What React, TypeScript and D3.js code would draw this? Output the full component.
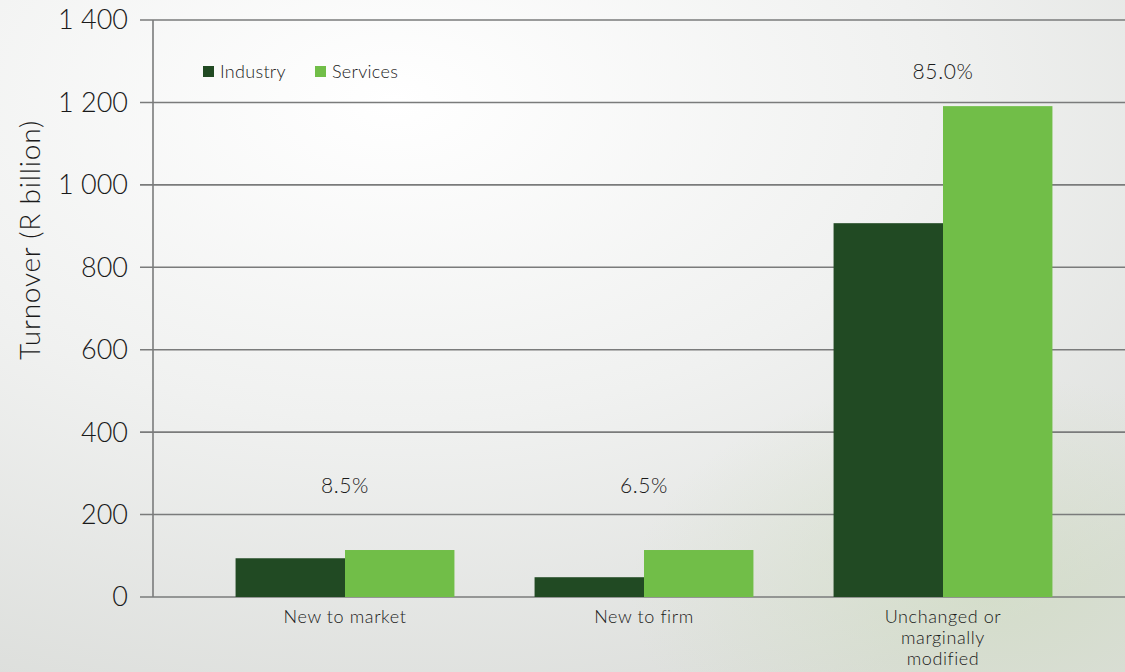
import React from "react";
import * as d3 from "d3";

const categories = ["New to market", "New to firm", "Unchanged or marginally modified"];
const categoryLines = [["New to market"], ["New to firm"], ["Unchanged or", "marginally", "modified"]];
const series = ["Industry", "Services"];
const industry = [94, 48, 907];
const services = [114, 114, 1191];
const shareLabels = ["8.5%", "6.5%", "85.0%"];
const shareLabelValues = [269, 269, 1274];
const yTicks = [0, 200, 400, 600, 800, 1000, 1200, 1400];
const colors = ["#214a23", "#71be48"];

const W = 1125;
const H = 672;
const FONT = "Lato, 'Open Sans', sans-serif";

export default function App() {
  const y = d3.scaleLinear().domain([0, 1400]).range([597, 20]);
  const x = d3
    .scaleBand<string>()
    .domain(categories)
    .range([195.5, 1092.5])
    .paddingInner(0.268)
    .paddingOuter(0.134);
  const xs = d3.scaleBand<string>().domain(series).range([0, x.bandwidth()]);
  const fmt = (v: number) => d3.format(",")(v).replace(/,/g, " ");
  const values = [industry, services];

  return (
    <svg
      width={W}
      height={H}
      style={{ position: "absolute", left: 0, top: 0, display: "block" }}
      fontFamily={FONT}
    >
      <defs>
        <radialGradient id="bg" cx="0.35" cy="0.15" r="0.95">
          <stop offset="0" stopColor="#ffffff" />
          <stop offset="0.5" stopColor="#f0f1f0" />
          <stop offset="1" stopColor="#dcdedb" />
        </radialGradient>
        <radialGradient id="glow" cx="0.88" cy="0.88" r="0.32">
          <stop offset="0" stopColor="#cddcbc" stopOpacity="0.55" />
          <stop offset="1" stopColor="#cddcbc" stopOpacity="0" />
        </radialGradient>
      </defs>
      <rect width={W} height={H} fill="url(#bg)" />
      <rect width={W} height={H} fill="url(#glow)" />

      {yTicks.map((t) => (
        <g key={t}>
          <line x1={140} x2={W} y1={y(t)} y2={y(t)} stroke="#7a7b7b" strokeWidth={1.6} />
          <text
            x={128}
            y={y(t)}
            dy="0.35em"
            textAnchor="end"
            fontSize={27}
            fontWeight={300}
            fill="#1a1a1a"
          >
            {fmt(t)}
          </text>
        </g>
      ))}
      <line x1={153} x2={153} y1={y(1400)} y2={y(0)} stroke="#7a7b7b" strokeWidth={1.6} />

      <text
        transform={`translate(40,240) rotate(-90)`}
        textAnchor="middle"
        fontSize={28}
        fontWeight={300}
        letterSpacing={0.8}
        fill="#1a1a1a"
      >
        Turnover (R billion)
      </text>

      {categories.map((c, i) => (
        <g key={c} transform={`translate(${x(c)},0)`}>
          {series.map((s, j) => (
            <rect
              key={s}
              x={xs(s)}
              y={y(values[j][i])}
              width={xs.bandwidth()}
              height={y(0) - y(values[j][i])}
              fill={colors[j]}
            />
          ))}
          <text
            x={x.bandwidth() / 2}
            y={y(shareLabelValues[i])}
            dy="0.35em"
            textAnchor="middle"
            fontSize={21}
            fontWeight={300}
            letterSpacing={0.6}
            fill="#1a1a1a"
          >
            {shareLabels[i]}
          </text>
          {categoryLines[i].map((ln, k) => (
            <text
              key={k}
              x={x.bandwidth() / 2}
              y={623 + k * 21}
              textAnchor="middle"
              fontSize={18}
              fontWeight={300}
              letterSpacing={0.6}
              fill="#1a1a1a"
            >
              {ln}
            </text>
          ))}
        </g>
      ))}

      {series.map((s, j) => (
        <g key={s} transform={`translate(${[203, 315][j]},72)`}>
          <rect x={0} y={-6} width={11} height={11} fill={colors[j]} />
          <text x={17} y={0} dy="0.35em" fontSize={18} fontWeight={300} letterSpacing={0.3} fill="#1a1a1a">
            {s}
          </text>
        </g>
      ))}
    </svg>
  );
}
